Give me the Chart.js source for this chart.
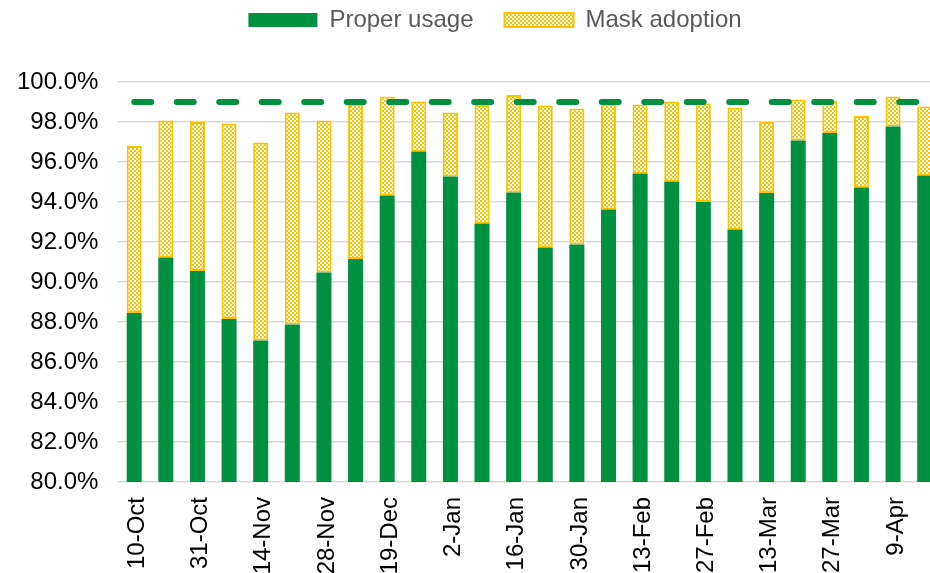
<!DOCTYPE html>
<html>
<head>
<meta charset="utf-8">
<script src="https://cdn.jsdelivr.net/npm/chart.js@4.4.1/dist/chart.umd.min.js"></script>
<style>
  html, body { margin: 0; padding: 0; background: #fff; overflow: hidden; }
  #wrap { width: 945px; height: 573px; }
</style>
</head>
<body>
<div id="wrap"><canvas id="chart"></canvas></div>
<script>
// weekly survey dates, only every other one is labelled on the axis
const weeks = ['10-Oct','','31-Oct','','14-Nov','','28-Nov','','19-Dec','','2-Jan','','16-Jan','',
               '30-Jan','','13-Feb','','27-Feb','','13-Mar','','27-Mar','','9-Apr',''];

// % of people wearing a mask properly
const properUsage = [88.45, 91.23, 90.55, 88.15, 87.07, 87.88, 90.47, 91.15, 94.32, 96.53, 95.27, 92.92, 94.47,
                     91.72, 91.88, 93.63, 95.43, 95.02, 94.00, 92.63, 94.45, 97.07, 97.45, 94.73, 97.78, 95.32];
// % of people wearing a mask at all (top of the yellow part)
const maskAdoption = [96.80, 98.07, 98.00, 97.93, 96.98, 98.48, 98.08, 98.90, 99.27, 99.02, 98.48, 98.85, 99.35,
                      98.82, 98.68, 98.90, 98.87, 99.02, 98.93, 98.73, 98.00, 99.12, 99.05, 98.30, 99.27, 98.77];
const target = 99;

const yTicks = { min: 80, max: 100, step: 2 };

const GREEN = '#009140';
const YELLOW = '#FFC000';

Chart.defaults.font.family = "'Liberation Sans', Arial, sans-serif";

function checkPattern(){
    const c = document.createElement('canvas');
    c.width = 4; c.height = 4;
    const g = c.getContext('2d');
    g.fillStyle = '#fff';
    g.fillRect(0, 0, 4, 4);
    g.fillStyle = YELLOW;
    g.fillRect(0, 0, 2, 2);
    g.fillRect(2, 2, 2, 2);
    return g.createPattern(c, 'repeat');
}

// legend sits in its own 82px band; draw it a bit higher and right of default
const legendBand = {
    id: 'legendBand',
    beforeInit(chart){
        const fit = chart.legend.fit;
        chart.legend.fit = function(){
            fit.bind(chart.legend)();
            this.height = 82;
        };
    },
    afterLayout(chart){
        const lg = chart.legend;
        const dx = 495 - (lg.left + lg.right) / 2;
        lg.left += dx;
        lg.right += dx;
        lg.top = -23;
    }
};

const config = {
    data: {
        labels: weeks,
        datasets: [{
            type: 'bar',
            label: 'Proper usage',
            data: properUsage.map(v => [yTicks.min, v]),
            backgroundColor: GREEN,
            borderWidth: 0,
            barPercentage: 0.475,
            categoryPercentage: 1,
            order: 1
        }, {
            type: 'bar',
            label: 'Mask adoption',
            data: properUsage.map((v, i) => [v, maskAdoption[i]]),
            backgroundColor: checkPattern(),
            borderColor: YELLOW,
            borderWidth: 2,
            borderSkipped: false,
            barPercentage: 0.475,
            categoryPercentage: 1,
            order: 1
        }, {
            type: 'line',
            label: 'Target',
            data: weeks.map(() => target),
            borderColor: GREEN,
            borderWidth: 6,
            borderDash: [17, 25.5],
            borderCapStyle: 'round',
            pointRadius: 0,
            fill: false,
            order: 0
        }]
    },
    options: {
        responsive: true,
        maintainAspectRatio: false,
        animation: false,
        layout: { padding: { left: 18, right: 4.5, top: 0, bottom: 0 } },
        plugins: {
            tooltip: { enabled: false },
            legend: {
                position: 'top',
                labels: {
                    boxWidth: 69,
                    boxHeight: 14,
                    padding: 31,
                    color: '#595959',
                    font: { size: 24 },
                    filter: item => item.datasetIndex < 2
                }
            }
        },
        scales: {
            x: {
                stacked: true,
                afterFit: s => { s.height = 91; s.paddingLeft = 0; s.paddingRight = 0; },
                grid: { display: false, drawTicks: false },
                border: { display: false },
                ticks: {
                    autoSkip: false,
                    maxRotation: 90,
                    minRotation: 90,
                    padding: 15,
                    labelOffset: 3,
                    color: '#000',
                    font: { size: 24 }
                }
            },
            y: {
                min: yTicks.min,
                max: yTicks.max,
                afterFit: s => { s.width = 100.4; },
                grid: { color: '#d9d9d9', lineWidth: 1.5, drawTicks: false },
                border: { display: false },
                ticks: {
                    stepSize: yTicks.step,
                    padding: 20,
                    color: '#000',
                    font: { size: 24 },
                    callback: v => v.toFixed(1) + '%'
                }
            }
        }
    },
    plugins: [legendBand]
};

new Chart(document.getElementById('chart'), config);
</script>
</body>
</html>
